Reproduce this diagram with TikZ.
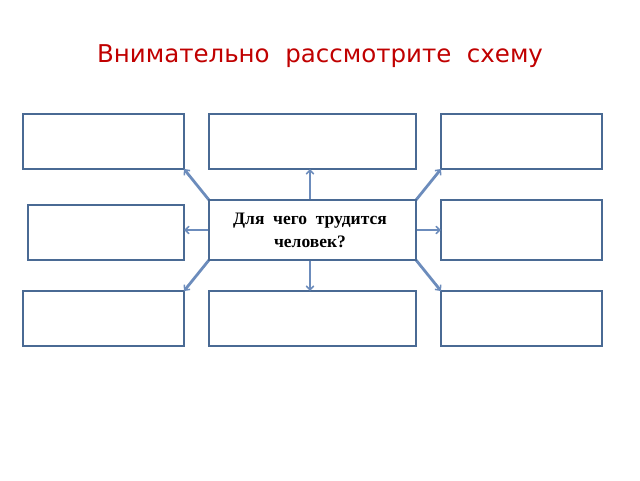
\documentclass[tikz,border=0pt]{standalone}
\usepackage{fontspec}
\setmainfont{Liberation Serif}
\newfontfamily\titlefont{DejaVu Sans}
\usetikzlibrary{arrows.meta}
\definecolor{boxc}{RGB}{74,106,148}
\definecolor{arrc}{RGB}{108,140,188}
\definecolor{titlec}{RGB}{192,0,0}
\tikzset{
  box/.style={draw=boxc, line width=1.8pt, fill=white},
  conn/.style={draw=arrc, line width=2.8pt, -{Straight Barb[length=4pt,width=7.5pt,line width=1.5pt]}},
}
\begin{document}
\begin{tikzpicture}[x=1pt,y=-1pt]
\useasboundingbox (0,0) rectangle (640,480);
\node[text=titlec, font=\titlefont\fontsize{24.5}{28}\selectfont] (title) at (320,56) {Внимательно\ \ рассмотрите\ \ схему};
\path[box] (23,114) rectangle (184,169);
\path[box] (209,114) rectangle (416,169);
\path[box] (441,114) rectangle (602,169);
\path[box] (28,205) rectangle (184,260);
\path[box] (441,200) rectangle (602,260);
\path[box] (23,291) rectangle (184,346);
\path[box] (209,291) rectangle (416,346);
\path[box] (441,291) rectangle (602,346);
\coordinate (TL) at (184,169); \coordinate (TM) at (310,169); \coordinate (TR) at (441,169);
\coordinate (ML) at (184,230); \coordinate (MR) at (441,230);
\coordinate (BL) at (184,291); \coordinate (BM) at (310,291); \coordinate (BR) at (441,291);
\coordinate (c1) at (209,200); \coordinate (c2) at (310,200); \coordinate (c3) at (416,200);
\coordinate (c4) at (209,230); \coordinate (c5) at (416,230);
\coordinate (c6) at (209,260); \coordinate (c7) at (310,260); \coordinate (c8) at (416,260);
\draw[conn] (c1) -- (TL);
\draw[conn] (c2) -- (TM);
\draw[conn] (c3) -- (TR);
\draw[conn] (c4) -- (ML);
\draw[conn] (c5) -- (MR);
\draw[conn] (c6) -- (BL);
\draw[conn] (c7) -- (BM);
\draw[conn] (c8) -- (BR);
\path[box] (209,200) rectangle (416,260);
\node[align=center, font=\bfseries\fontsize{17.5}{23}\selectfont] (center) at (310,230) {Для\ \ чего\ \ трудится\\человек?};
\end{tikzpicture}
\end{document}
